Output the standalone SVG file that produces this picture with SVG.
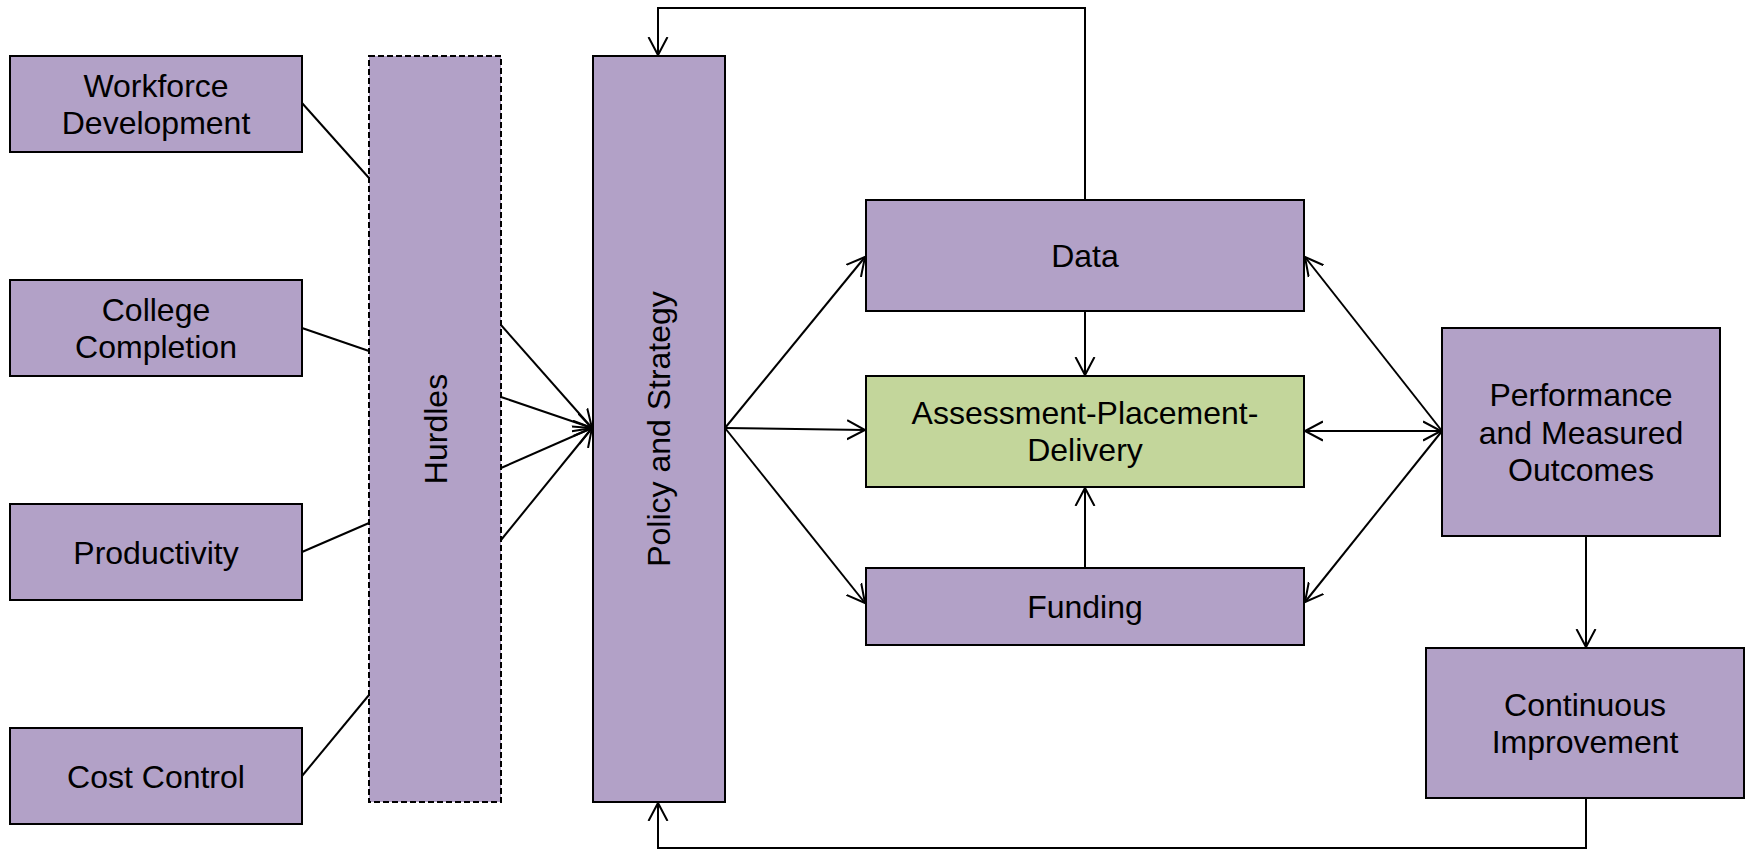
<svg xmlns="http://www.w3.org/2000/svg" width="1746" height="851" viewBox="0 0 1746 851">
<style>
.box{fill:#B2A1C7;stroke:#000;stroke-width:2}
.green{fill:#C3D69B;stroke:#000;stroke-width:2}
.dash{fill:#B2A1C7;stroke:#000;stroke-width:2;stroke-dasharray:6,3}
.lbl{font-family:"Liberation Sans",Arial,sans-serif;font-size:32px;fill:#000;text-anchor:middle}
.ln{fill:none;stroke:#000;stroke-width:2}
.arr{marker-end:url(#ah)}
.arr2{marker-start:url(#ah);marker-end:url(#ah)}
</style>
<defs>
<marker id="ah" markerUnits="userSpaceOnUse" markerWidth="22" markerHeight="24" refX="18" refY="11" orient="auto-start-reverse">
<path d="M0,1.5 L18,11 L0,20.5" fill="none" stroke="#000" stroke-width="2"/>
</marker>
</defs>
<rect width="1746" height="851" fill="#fff"/>
<g id="connectors">
<line class="ln" x1="302" y1="103" x2="369" y2="178"/>
<line class="ln" x1="302" y1="328" x2="369" y2="351"/>
<line class="ln" x1="302" y1="552" x2="369" y2="523"/>
<line class="ln" x1="302" y1="776" x2="369" y2="695"/>
<line class="ln arr" x1="501" y1="325" x2="592" y2="428"/>
<line class="ln arr" x1="501" y1="397" x2="592" y2="428"/>
<line class="ln arr" x1="501" y1="468" x2="592" y2="428"/>
<line class="ln arr" x1="501" y1="540" x2="592" y2="428"/>
<line class="ln arr" x1="725" y1="428" x2="865" y2="257"/>
<line class="ln arr" x1="725" y1="428" x2="865" y2="430"/>
<line class="ln arr" x1="725" y1="428" x2="865" y2="603"/>
<line class="ln arr" x1="1085" y1="311" x2="1085" y2="375"/>
<line class="ln arr" x1="1085" y1="567" x2="1085" y2="488"/>
<line class="ln arr" x1="1442" y1="431" x2="1305" y2="257"/>
<line class="ln arr" x1="1442" y1="431" x2="1305" y2="602"/>
<line class="ln arr2" x1="1305" y1="431" x2="1441" y2="431"/>
<line class="ln arr" x1="1586" y1="537" x2="1586" y2="647"/>
<path class="ln arr" d="M1085,200 V8 H658 V55"/>
<path class="ln arr" d="M1586,798 V848 H658 V803"/>
</g>
<g id="workforce"><rect class="box" x="10" y="56" width="292" height="96"/><text class="lbl" x="156" y="96.5">Workforce</text><text class="lbl" x="156" y="134">Development</text></g>
<g id="college"><rect class="box" x="10" y="280" width="292" height="96"/><text class="lbl" x="156" y="320.5">College</text><text class="lbl" x="156" y="358">Completion</text></g>
<g id="productivity"><rect class="box" x="10" y="504" width="292" height="96"/><text class="lbl" x="156" y="563.5">Productivity</text></g>
<g id="cost"><rect class="box" x="10" y="728" width="292" height="96"/><text class="lbl" x="156" y="787.5">Cost Control</text></g>
<g id="hurdles"><rect class="dash" x="369" y="56" width="132" height="746"/><text class="lbl" transform="translate(447,429) rotate(-90)" x="0" y="0">Hurdles</text></g>
<g id="policy"><rect class="box" x="593" y="56" width="132" height="746"/><text class="lbl" transform="translate(670,429) rotate(-90)" x="0" y="0">Policy and Strategy</text></g>
<g id="data"><rect class="box" x="866" y="200" width="438" height="111"/><text class="lbl" x="1085" y="266.5">Data</text></g>
<g id="apd"><rect class="green" x="866" y="376" width="438" height="111"/><text class="lbl" x="1085" y="424">Assessment-Placement-</text><text class="lbl" x="1085" y="461">Delivery</text></g>
<g id="funding"><rect class="box" x="866" y="568" width="438" height="77"/><text class="lbl" x="1085" y="618">Funding</text></g>
<g id="performance"><rect class="box" x="1442" y="328" width="278" height="208"/><text class="lbl" x="1581" y="406">Performance</text><text class="lbl" x="1581" y="443.5">and Measured</text><text class="lbl" x="1581" y="481">Outcomes</text></g>
<g id="continuous"><rect class="box" x="1426" y="648" width="318" height="150"/><text class="lbl" x="1585" y="716">Continuous</text><text class="lbl" x="1585" y="753">Improvement</text></g>
</svg>
